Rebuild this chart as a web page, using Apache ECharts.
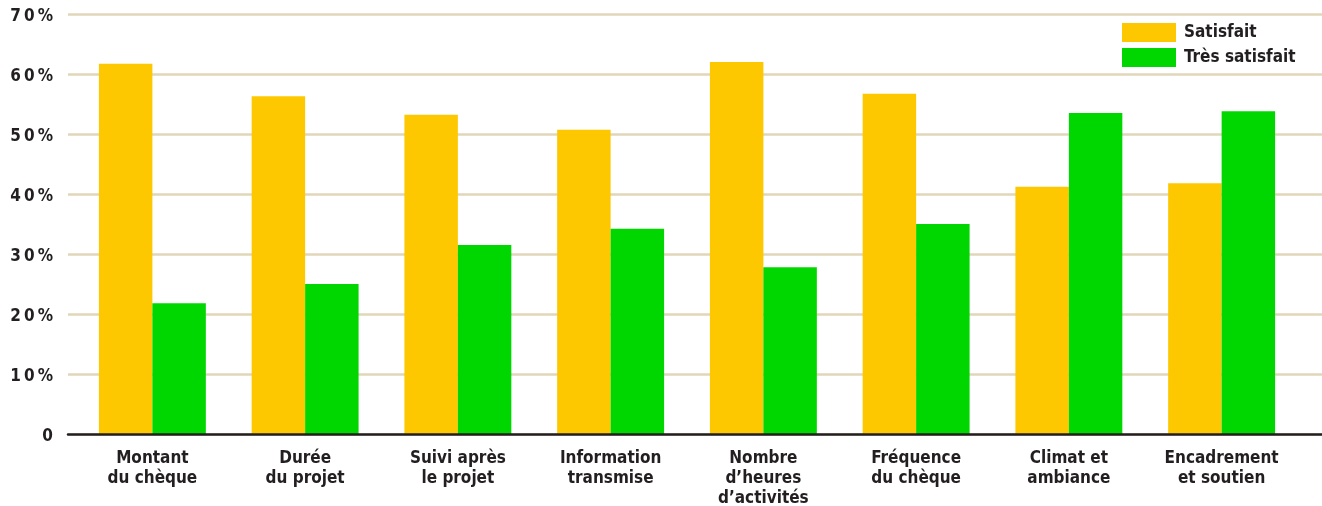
<!DOCTYPE html>
<html>
<head>
<meta charset="utf-8">
<script src="https://cdn.jsdelivr.net/npm/echarts@6/dist/echarts.min.js"></script>
<style>
  html, body { margin: 0; padding: 0; background: #ffffff; }
  #chart { width: 1322px; height: 506px; }
</style>
</head>
<body>
<div id="chart"></div>
<script>
// Survey satisfaction by topic (percent of respondents)
const categories = [
  'Montant\ndu chèque',
  'Durée\ndu projet',
  'Suivi après\nle projet',
  'Information\ntransmise',
  'Nombre\nd\u2019heures\nd\u2019activités',
  'Fréquence\ndu chèque',
  'Climat et\nambiance',
  'Encadrement\net soutien'
];
const satisfait     = [61.7, 56.3, 53.2, 50.7, 62.0, 56.7, 41.2, 41.8];
const tresSatisfait = [21.8, 25.0, 31.5, 34.2, 27.8, 35.0, 53.5, 53.8];
const yTickLabels = {0: '0', 10: '1\u20090\u2009%', 20: '2\u20090\u2009%', 30: '3\u20090\u2009%',
                     40: '4\u20090\u2009%', 50: '5\u20090\u2009%', 60: '6\u20090\u2009%', 70: '7\u20090\u2009%'};

const FONT = '"DejaVu Sans Condensed", "DejaVu Sans", sans-serif';
const INK = '#231f20';
const YELLOW = '#fdc800';
const GREEN = '#00d700';

const chart = echarts.init(document.getElementById('chart'), null, { renderer: 'canvas' });
chart.setOption({
  animation: false,
  backgroundColor: '#ffffff',
  textStyle: { fontFamily: FONT },
  legend: {
    orient: 'vertical',
    left: 1122,
    top: 23,
    padding: 0,
    itemWidth: 54,
    itemHeight: 19,
    itemGap: 6,
    icon: 'rect',
    textStyle: { fontFamily: FONT, fontWeight: 'bold', fontSize: 17, lineHeight: 19, color: INK, padding: [0, 0, 0, 3] },
    data: ['Satisfait', 'Très satisfait']
  },
  grid: [
    // full-width frame: gridlines, y labels and the baseline
    { left: 68, right: 0, top: 14, bottom: 72, outerBoundsMode: 'none', containLabel: false },
    // bar area
    { left: 76, right: 24, top: 14, bottom: 72, outerBoundsMode: 'none', containLabel: false }
  ],
  xAxis: [
    {
      gridIndex: 0, type: 'category', data: [''],
      axisLine: { show: true, lineStyle: { color: INK, width: 2.5 } },
      axisTick: { show: false }, axisLabel: { show: false }, splitLine: { show: false }, z: 10
    },
    {
      gridIndex: 1, type: 'category', data: categories,
      axisLine: { show: false }, axisTick: { show: false },
      axisLabel: {
        interval: 0, margin: 15, fontFamily: FONT, fontWeight: 'bold', fontSize: 17,
        lineHeight: 20, color: INK, align: 'center'
      }
    }
  ],
  yAxis: [
    {
      gridIndex: 0, type: 'value', min: 0, max: 70, interval: 10,
      axisLine: { show: false }, axisTick: { show: false },
      axisLabel: {
        margin: 15, color: INK,
        formatter: v => '{t|' + yTickLabels[v] + '}',
        rich: {
          t: { fontFamily: FONT, fontWeight: 'bold', fontSize: 17, color: INK, padding: [6, 0, 0, 0] }
        }
      },
      splitLine: { show: true, lineStyle: { color: '#e0d6b8', width: 2.5 } }
    },
    {
      gridIndex: 1, type: 'value', min: 0, max: 70, interval: 10, show: false,
      splitLine: { show: false }
    }
  ],
  series: [
    {
      name: 'Satisfait', type: 'bar', xAxisIndex: 1, yAxisIndex: 1,
      data: satisfait, itemStyle: { color: YELLOW },
      barGap: '0%', barCategoryGap: '30%'
    },
    {
      name: 'Très satisfait', type: 'bar', xAxisIndex: 1, yAxisIndex: 1,
      data: tresSatisfait, itemStyle: { color: GREEN },
      barGap: '0%', barCategoryGap: '30%'
    }
  ]
});
</script>
</body>
</html>
